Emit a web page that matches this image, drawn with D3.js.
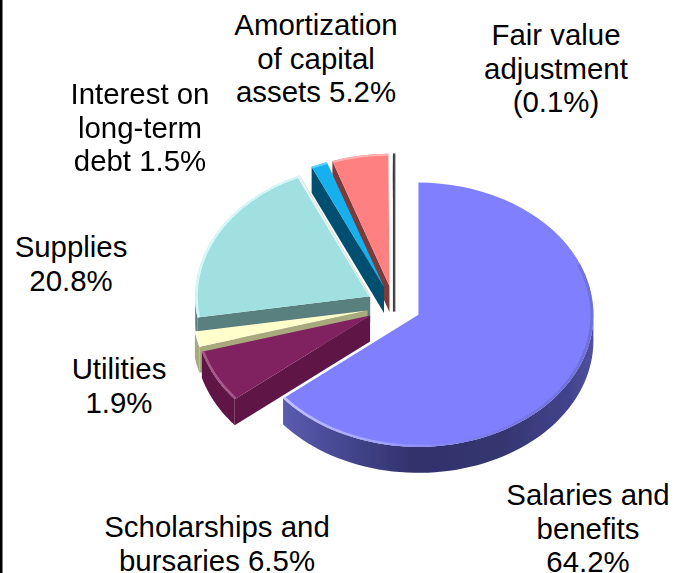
<!DOCTYPE html>
<html><head><meta charset="utf-8">
<script src="https://cdnjs.cloudflare.com/ajax/libs/d3/7.8.5/d3.min.js"></script>
<style>html,body{margin:0;padding:0;background:#fff;overflow:hidden}svg{display:block}text{font-family:"Liberation Sans",Arial,sans-serif;fill:#000}</style>
</head><body><script>
const categories=["Salaries and benefits","Scholarships and bursaries","Utilities","Supplies","Interest on long-term debt","Amortization of capital assets","Fair value adjustment"];
const values=[64.2,6.5,1.9,20.8,1.5,5.2,0.1];
const topColors=["#8080ff","#802060","#ffffcc","#a0e0e0","#18b0ee","#ff8080","#c8c8c8"];
const wallColors=["#3c3d80","#5e1747","#a9a97e","#5a7f7f","#00506f","#7a3b3b","#333333"];
const rimColors=["#a9a9ff","#a85a8c","#ffffe8","#d4f8f8","#60d0ff","#ffb0b0","#888888"];
const labelLines=[["Salaries and","benefits","64.2%"],["Scholarships and","bursaries 6.5%"],["Utilities","1.9%"],["Supplies","20.8%"],["Interest on","long-term","debt 1.5%"],["Amortization","of capital","assets 5.2%"],["Fair value","adjustment","(0.1%)"]];
const labelPos=[[588,505],[217,537],[119,379],[71,257],[140,104],[316,35],[556,45]];

const W=676,H=573,cx=394,cy=306,rx=175,k=0.755,depth=26,explode=27,lineH=33.5,fs=29.4;
const svg=d3.select("body").append("svg").attr("width",W).attr("height",H);
svg.append("rect").attr("width",2.5).attr("height",H).attr("fill","#000");
const defs=svg.append("defs");
defs.append("filter").attr("id","soft").attr("x","-5%").attr("y","-5%").attr("width","110%").attr("height","110%")
  .append("feGaussianBlur").attr("stdDeviation",0.45);

const pie=d3.pie().sort(null).value(d=>d);
const arcs=pie(values).map((a,i)=>({...a,i}));
const pt=(a,r,ax,ay)=>[ax+r*Math.sin(a),ay-r*k*Math.cos(a)];
const line=d3.line();
const arcGen=d3.arc();
const g=svg.append("g").attr("filter","url(#soft)");
const Q=Math.PI/2;

const mg=defs.append("linearGradient").attr("id","wall0").attr("gradientUnits","userSpaceOnUse")
  .attr("x1",283).attr("x2",593).attr("y1",0).attr("y2",0);
[[0,"#5a5cb0"],[0.2,"#45468f"],[0.42,"#31326d"],[0.7,"#34356f"],[0.92,"#42438c"],[1,"#50519f"]].forEach(s=>mg.append("stop").attr("offset",s[0]).attr("stop-color",s[1]));
const hg=defs.append("linearGradient").attr("id","rim0").attr("gradientUnits","userSpaceOnUse")
  .attr("x1",-140).attr("x2",175).attr("y1",0).attr("y2",0);
[[0,"#c4c4ff"],[0.3,"#a6a6ff"],[0.5,"#8686f6"],[0.75,"#7676e4"],[1,"#7070dc"]].forEach(s=>hg.append("stop").attr("offset",s[0]).attr("stop-color",s[1]));

[6,5,4,3,2,1,0].forEach(i=>{
  const d=arcs[i],a0=d.startAngle,a1=d.endAngle,mid=(a0+a1)/2;
  const ax=cx+explode*Math.sin(mid),ay=cy-explode*k*Math.cos(mid);
  const s=g.append("g");
  const wall=i===0?"url(#wall0)":wallColors[i];
  const radial=a=>{const p=pt(a,rx,ax,ay);return [[ax,ay],p,[p[0],p[1]+depth],[ax,ay+depth]];};
  if(Math.sin(a0)<-0.001) s.append("path").attr("d",line(radial(a0))+"Z").attr("fill",wallColors[i]);
  if(Math.sin(a1)>0.001) s.append("path").attr("d",line(radial(a1))+"Z").attr("fill",wallColors[i]);
  const w0=Math.max(a0,Q),w1=Math.min(a1,3*Q);
  if(w1>w0){
    const as=d3.range(0,61).map(n=>w0+(w1-w0)*n/60);
    const up=as.map(a=>pt(a,rx,ax,ay)),dn=as.map(a=>{const p=pt(a,rx,ax,ay);return [p[0],p[1]+depth];}).reverse();
    s.append("path").attr("d",line(up.concat(dn))+"Z").attr("fill",wall);
  }
  const f=s.append("g").attr("transform",`translate(${ax},${ay}) scale(1,${k})`);
  if(i===6){
    const p=pt(a1,rx,ax,ay);
    s.append("path").attr("d",line([[ax,ay+depth],[p[0],p[1]]])).attr("stroke","#3a3a3a").attr("stroke-width",2).attr("fill","none");
    s.append("path").attr("d",line([[ax+1.6,ay+depth],[p[0]+1.6,p[1]]])).attr("stroke","#bdbdbd").attr("stroke-width",1).attr("fill","none");
    return;
  }
  f.append("path").attr("d",arcGen({innerRadius:0,outerRadius:rx,startAngle:a0,endAngle:a1})).attr("fill",topColors[i]);
  f.append("path").attr("d",arcGen({innerRadius:rx-(i===0?3:2.5),outerRadius:rx,startAngle:i===0?Q*0.75:a0,endAngle:a1}))
    .attr("fill",i===0?"url(#rim0)":rimColors[i]);
  if(i===3){
    const p1=pt(a1,rx,ax,ay);
    s.append("path").attr("d",line([p1,[ax,ay]])).attr("stroke","#e8f4f4").attr("stroke-width",2).attr("fill","none");
    s.append("path").attr("d",line([[ax-0.5,ay-1],[p1[0]+1.5,p1[1]-1]])).attr("stroke","#c8d4d4").attr("stroke-width",0.8).attr("fill","none");
  }
});

svg.append("g").selectAll("text").data(labelLines).join("text")
  .attr("text-anchor","middle").attr("font-size",fs)
  .attr("transform",(d,i)=>`translate(${labelPos[i][0]},${labelPos[i][1]})`)
  .selectAll("tspan").data(d=>d).join("tspan")
  .attr("x",0).attr("y",(d,j)=>j*lineH).text(d=>d);
</script></body></html>
